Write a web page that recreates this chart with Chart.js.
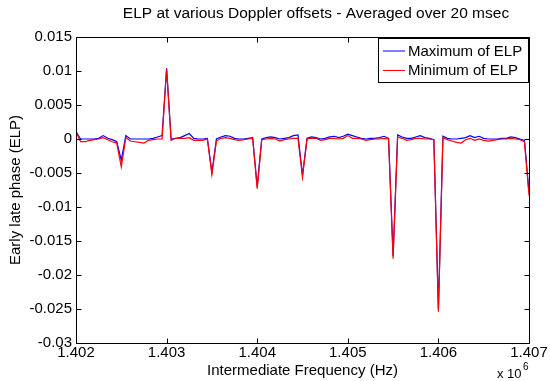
<!DOCTYPE html>
<html>
<head>
<meta charset="utf-8">
<script src="https://cdn.jsdelivr.net/npm/chart.js@4.4.1/dist/chart.umd.min.js"></script>
<style>
  html, body { margin: 0; padding: 0; background: #ffffff; }
  #wrap { width: 550px; height: 381px; position: relative; }
</style>
</head>
<body>
<div id="wrap"><canvas id="c" width="550" height="381"></canvas></div>
<script>
// Intermediate-frequency sweep: 1.402 MHz to 1.407 MHz in 50 Hz steps
const freqStart = 1402000;
const freqStep = 50;

// Maximum of the early-late phase at each IF bin
const elpMax = [
  0.0011, 0.0000, 0.0000, 0.0000, 0.0000, 0.0001, 0.0005, 0.0001, -0.0001, -0.0004,
  -0.0031, 0.0005, 0.0000, 0.0000, 0.0000, 0.0000, 0.0000, 0.0001, 0.0003, 0.0005,
  0.0104, 0.0000, 0.0001, 0.0002, 0.0005, 0.0008, 0.0001, 0.0000, 0.0000, 0.0001,
  -0.0049, 0.0000, 0.0003, 0.0005, 0.0004, 0.0001, 0.0000, 0.0000, 0.0001, 0.0002,
  -0.0070, 0.0000, 0.0002, 0.0003, 0.0002, 0.0000, 0.0001, 0.0002, 0.0005, 0.0006,
  -0.0053, 0.0001, 0.0003, 0.0002, 0.0000, 0.0001, 0.0003, 0.0004, 0.0002, 0.0004,
  0.0007, 0.0005, 0.0003, 0.0001, 0.0000, 0.0001, 0.0001, 0.0002, 0.0004, 0.0001,
  -0.0172, 0.0006, 0.0003, 0.0001, 0.0001, 0.0003, 0.0005, 0.0002, 0.0001, -0.0001,
  -0.0250, 0.0004, 0.0001, 0.0000, 0.0000, 0.0001, 0.0002, 0.0005, 0.0002, 0.0004,
  0.0001, 0.0000, 0.0000, 0.0000, 0.0001, 0.0001, 0.0003, 0.0002, 0.0000, -0.0002,
  -0.0078
];

// Minimum of the early-late phase at each IF bin
const elpMin = [
  0.0011, -0.0004, -0.0004, -0.0002, -0.0001, 0.0000, 0.0002, -0.0001, -0.0004, -0.0006,
  -0.0041, 0.0002, -0.0003, -0.0004, -0.0005, -0.0006, -0.0002, -0.0001, 0.0000, 0.0000,
  0.0103, -0.0002, 0.0001, 0.0001, 0.0001, 0.0002, -0.0002, -0.0002, -0.0002, 0.0000,
  -0.0052, -0.0003, 0.0001, 0.0002, 0.0001, -0.0001, -0.0002, -0.0001, 0.0000, 0.0001,
  -0.0073, -0.0001, 0.0000, 0.0001, 0.0000, -0.0003, -0.0001, 0.0000, 0.0001, 0.0001,
  -0.0056, 0.0000, 0.0001, 0.0001, -0.0002, -0.0001, 0.0001, 0.0001, 0.0000, 0.0001,
  0.0005, 0.0001, 0.0001, 0.0000, -0.0002, -0.0001, 0.0000, 0.0000, 0.0001, 0.0000,
  -0.0176, 0.0003, 0.0001, -0.0002, -0.0001, 0.0001, 0.0001, 0.0000, 0.0000, -0.0001,
  -0.0254, 0.0002, -0.0001, -0.0003, -0.0005, -0.0006, -0.0001, 0.0001, -0.0002, 0.0000,
  -0.0002, -0.0003, -0.0002, -0.0001, 0.0000, 0.0000, 0.0001, 0.0000, -0.0001, -0.0004,
  -0.0083
];

// Axis ticks and their labels
const xTickValues = [1402000, 1403000, 1404000, 1405000, 1406000, 1407000];
const xTickLabels = ['1.402', '1.403', '1.404', '1.405', '1.406', '1.407'];
const yTickValues = [-0.03, -0.025, -0.02, -0.015, -0.01, -0.005, 0, 0.005, 0.01, 0.015];
const yTickLabels = ['-0.03', '-0.025', '-0.02', '-0.015', '-0.01', '-0.005', '0', '0.005', '0.01', '0.015'];

const seriesNames = ['Maximum of ELP', 'Minimum of ELP'];
const seriesColors = ['#0000ff', '#ff0000'];

const FONT = "'Liberation Sans', Arial, Helvetica, sans-serif";
const FS = 15;

const toPoints = arr => arr.map((v, i) => ({ x: freqStart + i * freqStep, y: v }));

// Boxed axes with inward ticks, in-plot legend, title and the x10^6 exponent
const framePlugin = {
  id: 'frame',
  afterDraw(chart) {
    const ctx = chart.ctx;
    const a = chart.chartArea;
    const xs = chart.scales.x, ys = chart.scales.y;
    const L = Math.round(a.left) + 0.5, R = Math.round(a.right) + 0.5;
    const T = Math.round(a.top) + 0.5, B = Math.round(a.bottom) + 0.5;
    const tl = 5;
    ctx.save();
    ctx.strokeStyle = '#000';
    ctx.lineWidth = 1;
    ctx.beginPath();
    ctx.rect(L, T, R - L, B - T);
    xTickValues.forEach(v => {
      const px = Math.round(xs.getPixelForValue(v)) + 0.5;
      ctx.moveTo(px, B); ctx.lineTo(px, B - tl);
      ctx.moveTo(px, T); ctx.lineTo(px, T + tl);
    });
    yTickValues.forEach(v => {
      const py = Math.round(ys.getPixelForValue(v)) + 0.5;
      ctx.moveTo(L, py); ctx.lineTo(L + tl, py);
      ctx.moveTo(R, py); ctx.lineTo(R - tl, py);
    });
    ctx.stroke();

    // title
    ctx.fillStyle = '#000';
    ctx.font = '15.5px ' + FONT;
    ctx.textAlign = 'center';
    ctx.textBaseline = 'middle';
    ctx.fillText('ELP at various Doppler offsets - Averaged over 20 msec', 316, 14);

    // exponent label
    ctx.font = '13px ' + FONT;
    ctx.textAlign = 'left';
    ctx.textBaseline = 'alphabetic';
    ctx.fillText('x 10', 497, 378);
    ctx.font = '10px ' + FONT;
    ctx.fillText('6', 523, 370);

    // legend
    const lx = 378.5, ly = 38.5, lw = 150, lh = 44;
    ctx.fillStyle = '#fff';
    ctx.fillRect(lx, ly, lw, lh);
    ctx.strokeStyle = '#000';
    ctx.strokeRect(lx, ly, lw, lh);
    ctx.font = FS + 'px ' + FONT;
    ctx.textBaseline = 'middle';
    const rows = [51, 70.5];
    seriesNames.forEach((name, i) => {
      ctx.strokeStyle = seriesColors[i];
      ctx.beginPath();
      ctx.moveTo(383, rows[i]); ctx.lineTo(405, rows[i]);
      ctx.stroke();
      ctx.fillStyle = '#000';
      ctx.fillText(name, 408, rows[i] + 0.5);
    });
    ctx.restore();
  }
};

new Chart(document.getElementById('c'), {
  type: 'line',
  data: {
    datasets: [
      { label: seriesNames[0], data: toPoints(elpMax), borderColor: seriesColors[0],
        borderWidth: 1.2, pointRadius: 0, tension: 0, fill: false, order: 2 },
      { label: seriesNames[1], data: toPoints(elpMin), borderColor: seriesColors[1],
        borderWidth: 1.2, pointRadius: 0, tension: 0, fill: false, order: 1 }
    ]
  },
  options: {
    responsive: false,
    animation: false,
    devicePixelRatio: 1,
    layout: { padding: { top: 37, right: 21, bottom: 0, left: 0 } },
    plugins: { legend: { display: false }, title: { display: false }, tooltip: { enabled: false } },
    scales: {
      x: {
        type: 'linear',
        min: xTickValues[0],
        max: xTickValues[xTickValues.length - 1],
        afterBuildTicks: s => { s.ticks = xTickValues.map(v => ({ value: v })); },
        afterFit: s => { s.height = 38; },
        ticks: {
          autoSkip: false, maxRotation: 0, padding: 1, color: '#000',
          font: { family: FONT, size: FS },
          callback: v => xTickLabels[xTickValues.indexOf(v)]
        },
        grid: { display: false, drawTicks: false },
        border: { display: false },
        title: { display: true, text: 'Intermediate Frequency (Hz)', color: '#000',
                 font: { family: FONT, size: FS }, padding: { top: 0, bottom: 1 } }
      },
      y: {
        type: 'linear',
        min: yTickValues[0],
        max: yTickValues[yTickValues.length - 1],
        afterBuildTicks: s => { s.ticks = yTickValues.map(v => ({ value: v })); },
        afterFit: s => { s.width = 76; },
        ticks: {
          padding: 4, color: '#000',
          font: { family: FONT, size: FS },
          callback: v => yTickLabels[yTickValues.findIndex(t => Math.abs(t - v) < 1e-9)]
        },
        grid: { display: false, drawTicks: false },
        border: { display: false },
        title: { display: true, text: 'Early late phase (ELP)', color: '#000',
                 font: { family: FONT, size: FS }, padding: { top: 7, bottom: 0 } }
      }
    }
  },
  plugins: [framePlugin]
});
</script>
</body>
</html>
